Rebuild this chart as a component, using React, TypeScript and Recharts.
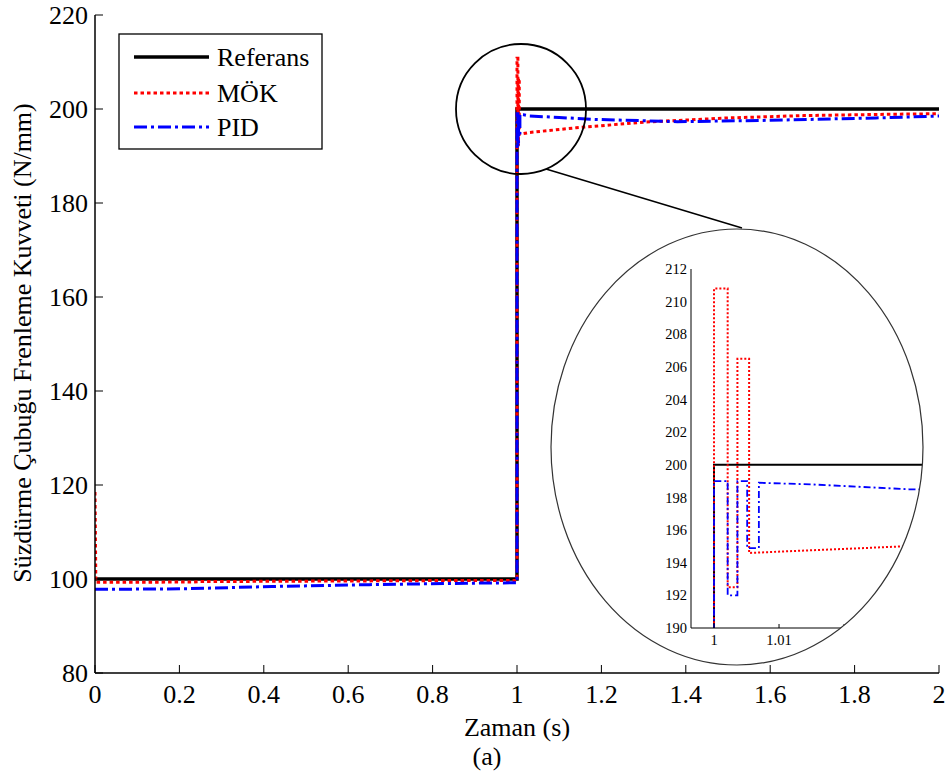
import { LineChart, Line, XAxis, YAxis } from "recharts";

const SERIF = "'Liberation Serif', 'Times New Roman', serif";

// main axes
const xTicks = [0, 0.2, 0.4, 0.6, 0.8, 1, 1.2, 1.4, 1.6, 1.8, 2];
const yTicks = [80, 100, 120, 140, 160, 180, 200, 220];

// zoomed inset axes
const insetXTicks = [1, 1.01, 1.02, 1.03];
const insetYTicks = [190, 192, 194, 196, 198, 200, 202, 204, 206, 208, 210, 212];

// Referans
const refT = [0, 1, 1, 2];
const refV = [100, 100, 200, 200];

// MÖK
const mokT = [0, 0.002, 0.23, 0.25, 0.65, 0.9, 1, 1, 1.0021, 1.0021, 1.0036, 1.0036, 1.0054, 1.0054, 1.029, 1.14, 1.3, 1.5, 1.68, 1.9, 2];
const mokV = [118.5, 99.3, 99.35, 99.45, 99.6, 99.7, 99.7, 210.8, 210.8, 192.5, 192.5, 206.5, 206.5, 194.6, 195.0, 196.0, 197.2, 198.1, 198.6, 198.9, 199.0];

// PID
const pidT = [0, 0.2, 0.42, 0.65, 0.88, 1, 1, 1.0021, 1.0021, 1.0036, 1.0036, 1.0051, 1.0051, 1.0069, 1.0069, 1.015, 1.03, 1.1, 1.18, 1.38, 1.6, 1.85, 2];
const pidV = [97.8, 97.9, 98.4, 98.8, 99.1, 99.2, 199, 199, 192, 192, 199, 199, 194.9, 194.9, 198.9, 198.8, 198.5, 198.2, 197.8, 197.3, 197.6, 198.1, 198.5];

const zip = (t: number[], v: number[]) => t.map((x, i) => ({ t: x, v: v[i] }));
const refData = zip(refT, refV);
const mokData = zip(mokT, mokV);
const pidData = zip(pidT, pidV);

const series = [
  { name: "Referans", color: "#000000", dash: undefined as string | undefined, width: 3.5, insetWidth: 2, insetDash: undefined as string | undefined, data: refData },
  { name: "MÖK", color: "#ff0000", dash: "3.5 3", width: 3, insetWidth: 2, insetDash: "2 2", data: mokData },
  { name: "PID", color: "#0000ff", dash: "13 4 3 4", width: 3, insetWidth: 1.8, insetDash: "7 3 2 3", data: pidData },
];

const fmt = (v: number) => String(v);

const bottomTick = (len: number, size: number, dy: number) => (p: any) => (
  <g>
    <line x1={p.x} x2={p.x} y1={p.y} y2={p.y - len} stroke="#000" strokeWidth={1} />
    <text x={p.x} y={p.y + dy} textAnchor="middle" fontSize={size} fontFamily={SERIF} fill="#000">
      {fmt(p.payload.value)}
    </text>
  </g>
);

const leftTick = (len: number, size: number, gap: number) => (p: any) => (
  <g>
    {len > 0 && <line x1={p.x} x2={p.x + len} y1={p.y} y2={p.y} stroke="#000" strokeWidth={1} />}
    <text x={p.x - gap} y={p.y} dy="0.35em" textAnchor="end" fontSize={size} fontFamily={SERIF} fill="#000">
      {fmt(p.payload.value)}
    </text>
  </g>
);

const topTick = (p: any) => <line x1={p.x} x2={p.x} y1={p.y} y2={p.y + 8} stroke="#000" strokeWidth={1} />;
const rightTick = (p: any) => <line x1={p.x} x2={p.x - 8} y1={p.y} y2={p.y} stroke="#000" strokeWidth={1} />;

const axisLine = { stroke: "#000", strokeWidth: 1.5 };

function MainChart() {
  return (
    <LineChart width={946} height={772} margin={{ top: 15, right: 7, bottom: 0, left: 0 }}>
      <XAxis type="number" dataKey="t" domain={[0, 2]} ticks={xTicks} interval={0} height={99}
        tickSize={0} tickMargin={0} tickLine={false} axisLine={axisLine} tick={bottomTick(8, 26, 30)} allowDataOverflow />
      <XAxis xAxisId="top" orientation="top" type="number" dataKey="t" domain={[0, 2]} ticks={xTicks} interval={0}
        height={0} tickSize={0} tickMargin={0} tickLine={false} axisLine={axisLine} tick={topTick} allowDataOverflow />
      <YAxis type="number" domain={[80, 220]} ticks={yTicks} interval={0} width={95}
        tickSize={0} tickMargin={0} tickLine={false} axisLine={axisLine} tick={leftTick(8, 26, 7)} allowDataOverflow />
      <YAxis yAxisId="right" orientation="right" type="number" domain={[80, 220]} ticks={yTicks} interval={0} width={0}
        tickSize={0} tickMargin={0} tickLine={false} axisLine={axisLine} tick={rightTick} allowDataOverflow />
      {series.map((s) => (
        <Line key={s.name} data={s.data} dataKey="v" type="linear" stroke={s.color} strokeWidth={s.width}
          strokeDasharray={s.dash} dot={false} activeDot={false} isAnimationActive={false} />
      ))}
    </LineChart>
  );
}

function InsetChart() {
  return (
    <div style={{ position: "absolute", left: 550, top: 229, width: 380, height: 436, background: "#fff",
      clipPath: "ellipse(186px 218px at 187px 218px)" }}>
      <LineChart width={380} height={436} margin={{ top: 40, right: 4.7, bottom: 0, left: 0 }}>
        <XAxis type="number" dataKey="t" domain={[0.99646, 1.0325]} ticks={insetXTicks} interval={0} height={37}
          tickSize={0} tickMargin={0} tickLine={false} axisLine={{ stroke: "#000", strokeWidth: 1 }}
          tick={bottomTick(4, 14.5, 17)} allowDataOverflow />
        <XAxis xAxisId="top" orientation="top" type="number" dataKey="t" domain={[0.99646, 1.0325]} height={0}
          tick={false} tickLine={false} axisLine={{ stroke: "#000", strokeWidth: 1 }} allowDataOverflow />
        <YAxis type="number" domain={[190, 212]} ticks={insetYTicks} interval={0} width={141}
          tickSize={0} tickMargin={0} tickLine={false} axisLine={{ stroke: "#000", strokeWidth: 1 }}
          tick={leftTick(0, 14.5, 4)} allowDataOverflow />
        {series.map((s) => (
          <Line key={s.name} data={s.data} dataKey="v" type="linear" stroke={s.color} strokeWidth={s.insetWidth}
            strokeDasharray={s.insetDash} dot={false} activeDot={false} isAnimationActive={false} />
        ))}
      </LineChart>
    </div>
  );
}

function Overlay() {
  const rows = [57, 93, 127];
  return (
    <svg width={946} height={772} style={{ position: "absolute", left: 0, top: 0, pointerEvents: "none" }}>
      <circle cx={521} cy={109} r={65} fill="none" stroke="#000" strokeWidth={1.8} />
      <line x1={546} y1={169} x2={742} y2={228} stroke="#000" strokeWidth={1.5} />
      <ellipse cx={737} cy={447} rx={186} ry={218} fill="none" stroke="#333" strokeWidth={1.2} />

      <rect x={119} y={34} width={203} height={115} fill="#fff" stroke="#000" strokeWidth={1.3} />
      {series.map((s, i) => (
        <g key={s.name}>
          <line x1={134} x2={209} y1={rows[i]} y2={rows[i]} stroke={s.color} strokeWidth={s.width} strokeDasharray={s.dash} />
          <text x={217} y={rows[i] + 9} fontSize={26} fontFamily={SERIF} fill="#000">{s.name}</text>
        </g>
      ))}

      <text transform="translate(31,343) rotate(-90)" textAnchor="middle" fontSize={26} fontFamily={SERIF} fill="#000">
        Süzdürme Çubuğu Frenleme Kuvveti (N/mm)
      </text>
      <text x={517} y={736} textAnchor="middle" fontSize={26} fontFamily={SERIF} fill="#000">Zaman (s)</text>
      <text x={487} y={765} textAnchor="middle" fontSize={26} fontFamily={SERIF} fill="#000">(a)</text>
    </svg>
  );
}

export default function App() {
  return (
    <div style={{ position: "absolute", left: 0, top: 0, width: 946, height: 772, background: "#fff" }}>
      <MainChart />
      <InsetChart />
      <Overlay />
    </div>
  );
}
